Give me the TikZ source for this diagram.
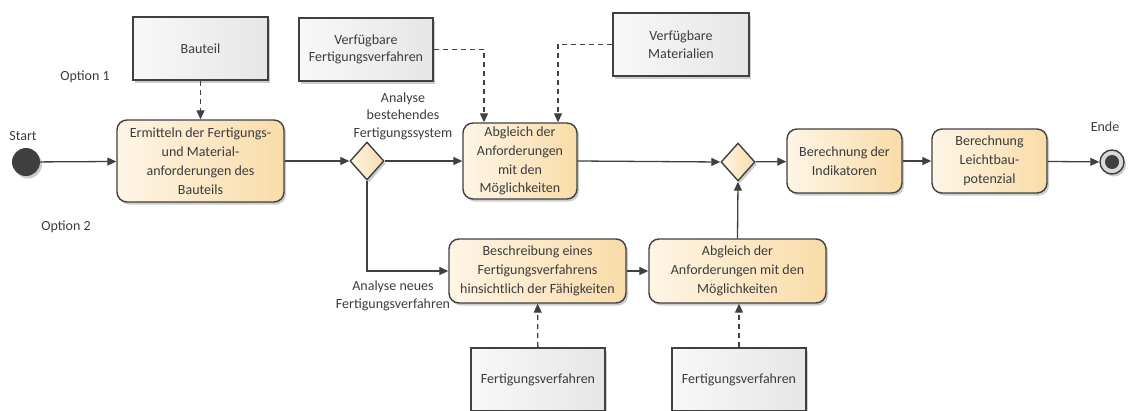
\documentclass[tikz,border=0pt]{standalone}
\usepackage{fontspec}
\setmainfont{Carlito}
\usetikzlibrary{arrows.meta,shapes.geometric,shadows}

\definecolor{ink}{HTML}{404040}
\definecolor{txt}{HTML}{3C3C3C}
\definecolor{actL}{HTML}{FEF5E6}
\definecolor{actR}{HTML}{F9DCA8}
\definecolor{objL}{HTML}{F8F8F8}
\definecolor{objR}{HTML}{E6E6E6}
\definecolor{ringfill}{HTML}{D9D9D9}

\tikzset{
  every node/.style={font=\fontsize{14}{17.6}\selectfont, text=txt},
  softshadow/.style={drop shadow={shadow xshift=2pt, shadow yshift=-2.5pt, opacity=0.2, fill=black}},
  action/.style={draw=ink, line width=1.4pt, rounded corners=10pt, align=center,
    left color=actL, right color=actR, inner sep=2pt, softshadow,
    font=\fontsize{14}{18.8}\selectfont},
  object/.style={draw=ink, line width=1.8pt, align=center,
    left color=objL, right color=objR, inner sep=2pt, softshadow},
  decision/.style={diamond, draw=ink, line width=1.4pt, inner sep=0pt,
    minimum width=34pt, minimum height=38pt, left color=actL, right color=actR, softshadow},
  flow/.style={draw=ink, line width=1.3pt, -{Triangle[length=9pt,width=8pt]}},
  objflow/.style={flow, dash pattern=on 5pt off 4pt},
  lbl/.style={align=center, inner sep=0pt},
}

\begin{document}
\begin{tikzpicture}[x=1pt, y=-1pt]
\useasboundingbox (0,0) rectangle (1133,410);
\clip (0,0) rectangle (1133,410);

% start and end points
\node[circle, fill=ink, minimum size=28pt, inner sep=0pt, softshadow] (start) at (26,162) {};
\node[circle, draw=ink, line width=1.4pt, fill=ringfill, minimum size=24pt, inner sep=0pt, softshadow] (ende) at (1112,162) {};
\node[circle, fill=ink, minimum size=14pt, inner sep=0pt] (endedot) at (1112,162) {};

% activities
\node[action, minimum width=167pt, minimum height=82pt] (ermitteln) at (200.5,161)
  {Ermitteln der Fertigungs-\\und Material-\\anforderungen des\\Bauteils};
\node[action, minimum width=114pt, minimum height=76pt] (abgleichA) at (520,161)
  {Abgleich der\\Anforderungen\\mit den\\Möglichkeiten};
\node[action, minimum width=115pt, minimum height=64pt] (indikatoren) at (844.5,161)
  {Berechnung der\\Indikatoren};
\node[action, minimum width=115pt, minimum height=64pt] (leichtbau) at (989.5,161)
  {Berechnung\\Leichtbau-\\potenzial};
\node[action, minimum width=177pt, minimum height=64pt] (beschreibung) at (537.5,271)
  {Beschreibung eines\\Fertigungsverfahrens\\hinsichtlich der Fähigkeiten};
\node[action, minimum width=177pt, minimum height=64pt] (abgleichB) at (737.5,271)
  {Abgleich der\\Anforderungen mit den\\Möglichkeiten};

% decisions
\node[decision] (d1) at (367,161) {};
\node[decision] (d2) at (738,162) {};

% objects
\node[object, minimum width=135pt, minimum height=63pt] (bauteil) at (200.5,48.5) {Bauteil};
\node[object, minimum width=134pt, minimum height=63pt] (vfv) at (366,49.5) {Verfügbare\\Fertigungsverfahren};
\node[object, minimum width=136pt, minimum height=63pt] (vmat) at (681,44.5) {Verfügbare\\Materialien};
\node[object, minimum width=134pt, minimum height=63pt] (fv1) at (538,379.5) {Fertigungsverfahren};
\node[object, minimum width=134pt, minimum height=63pt] (fv2) at (739,379.5) {Fertigungsverfahren};

% labels
\node[lbl] (lstart) at (23,136) {Start};
\node[lbl] (lende) at (1105,127) {Ende};
\node[lbl] (lopt1) at (85,77) {Option 1};
\node[lbl] (lopt2) at (66,227) {Option 2};
\node[lbl] (lbest) at (403,116) {Analyse\\bestehendes\\Fertigungssystem};
\node[lbl] (lneu) at (393,296) {Analyse neues\\Fertigungsverfahren};

% control flow
\draw[flow] (start) -- (ermitteln);
\draw[flow] (ermitteln) -- (d1);
\draw[flow] (d1) -- (abgleichA);
\draw[flow] (abgleichA.east) -- (d2.west);
\draw[flow] (d2) -- (indikatoren);
\draw[flow] (indikatoren) -- (leichtbau);
\draw[flow] (leichtbau) -- (ende);
\draw[flow] (d1.south) |- (beschreibung.west);
\draw[flow] (beschreibung) -- (abgleichB);
\draw[flow] (abgleichB.north) -- (d2.south);

% object flow
\draw[objflow] (bauteil) -- (ermitteln);
\draw[objflow] (vfv.east) -| ([xshift=-36pt]abgleichA.north);
\draw[objflow] (vmat.west) -| ([xshift=38pt]abgleichA.north);
\draw[objflow] (fv1) -- (beschreibung);
\draw[objflow] (fv2.north) -- (abgleichB.south -| fv2.north);
\end{tikzpicture}
\end{document}
